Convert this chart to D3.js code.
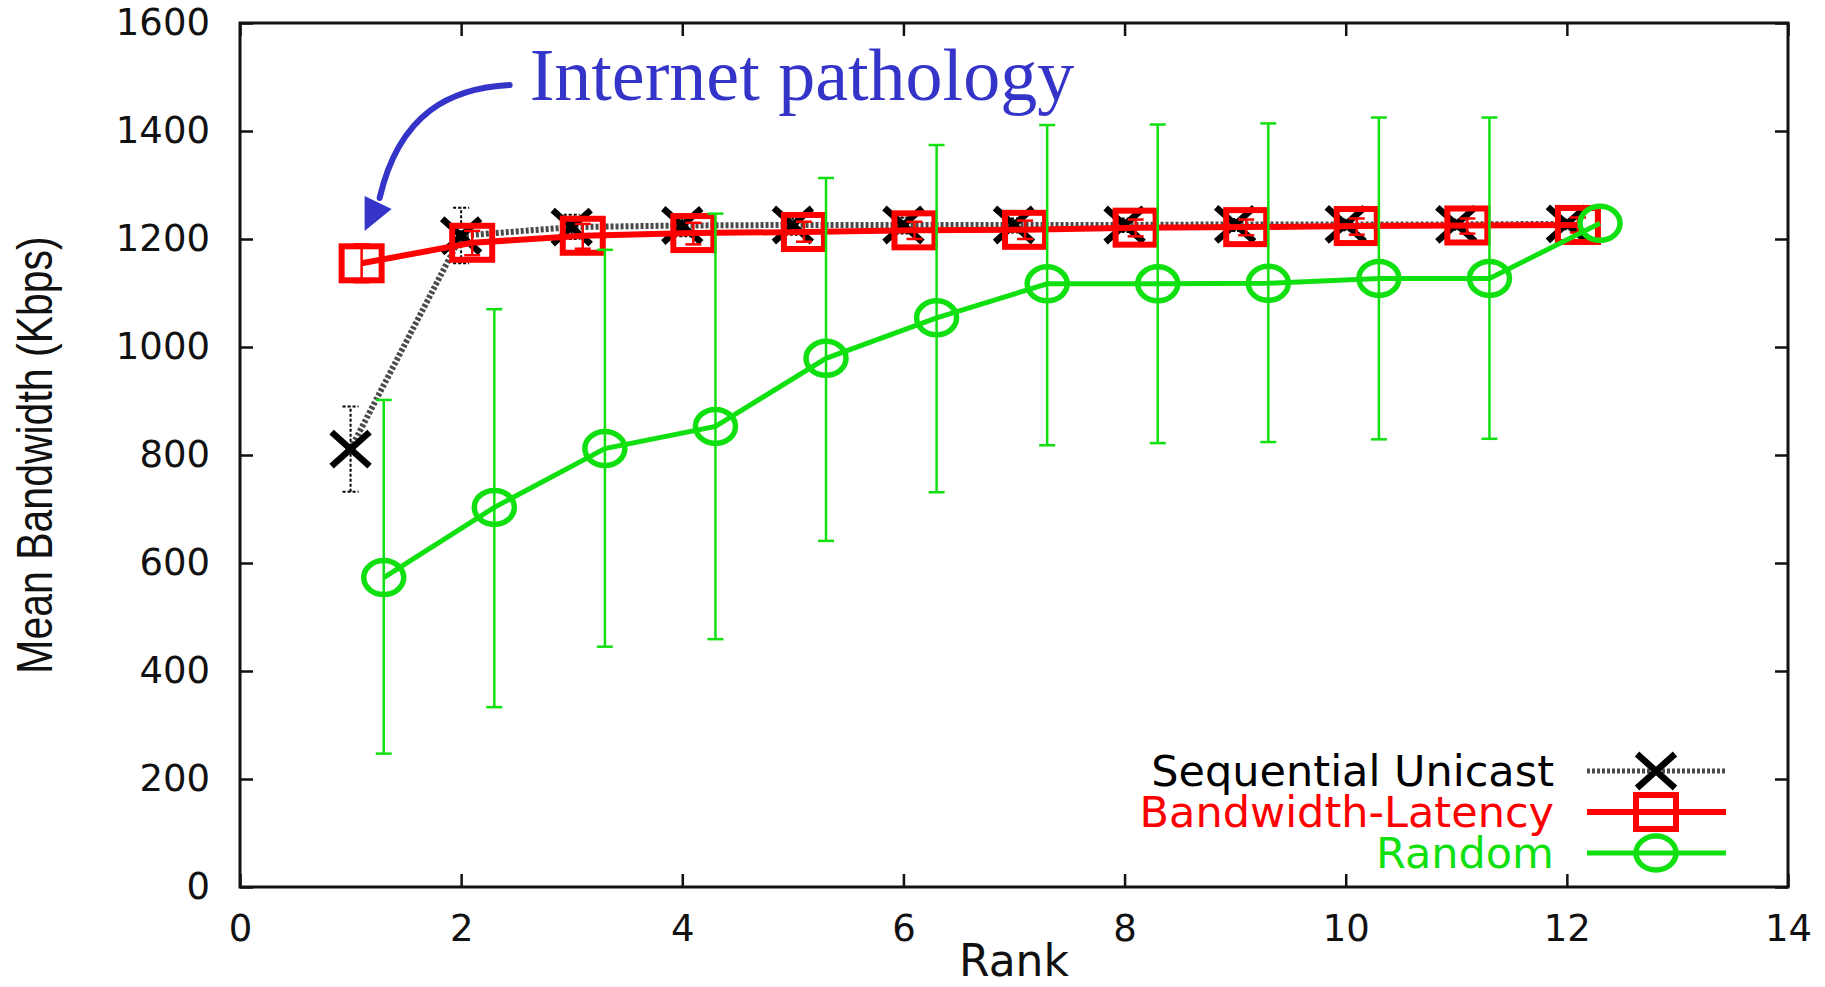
<!DOCTYPE html>
<html>
<head>
<meta charset="utf-8">
<script src="https://cdn.jsdelivr.net/npm/d3@7"></script>
<style>
body{margin:0;background:#fff;}
</style>
</head>
<body>
<div id="chart"></div>
<script>
// values
var xTicks=[0,2,4,6,8,10,12,14];
var yTicks=[0,200,400,600,800,1000,1200,1400,1600];

var seqRank=[1,2,3,4,5,6,7,8,9,10,11,12];
var seqMean=[811,1206,1222,1225,1226,1226,1226,1226,1227,1227,1227,1228];
var seqLow =[732,1155,1200,1205,1208,1210,1212,1213,1215,1216,1217,1218];
var seqHigh=[890,1258,1245,1242,1240,1240,1238,1238,1237,1236,1236,1236];

var bwRank=[1.1,2.1,3.1,4.1,5.1,6.1,7.1,8.1,9.1,10.1,11.1,12.1];
var bwMean=[1155,1193,1206,1211,1213,1216,1217,1221,1222,1224,1225,1226];
var bwLow =[1120,1170,1182,1190,1195,1200,1200,1205,1207,1208,1210,1212];
var bwHigh=[1190,1215,1228,1230,1232,1232,1234,1236,1236,1238,1238,1240];

var rndRank=[1.3,2.3,3.3,4.3,5.3,6.3,7.3,8.3,9.3,10.3,11.3,12.3];
var rndMean=[573,703,812,853,979,1054,1117,1117,1118,1127,1127,1229];
var rndLow =[247,333,445,459,641,731,818,822,824,829,830,1229];
var rndHigh=[902,1070,1180,1247,1313,1374,1411,1412,1414,1425,1425,1229];

var seriesNames=["Sequential Unicast","Bandwidth-Latency","Random"];
var seriesColors=["#000000","#ff0000","#10e010"];
var note="Internet pathology";

var W=1825,H=987;
var margin={top:23,right:37,bottom:100,left:240};
var x=d3.scaleLinear().domain([0,14]).range([margin.left,W-margin.right]);
var y=d3.scaleLinear().domain([0,1600]).range([H-margin.bottom,margin.top]);

var svg=d3.select("#chart").append("svg")
    .attr("width",W)
    .attr("height",H)
    .style("font-family","'DejaVu Sans', sans-serif");

// axes, ticks pointing inward on all four sides
function styleAxis(g){
    g.select(".domain").remove();
    g.selectAll(".tick line").attr("stroke","#111").attr("stroke-width",2.5);
    g.selectAll(".tick text").attr("fill","#111").style("font-size","37px").style("font-family","'DejaVu Sans', sans-serif");
}
var fmt=d3.format("d");
svg.append("g").attr("transform","translate("+margin.left+",0)")
    .call(d3.axisLeft(y).tickValues(yTicks).tickFormat(fmt).tickSize(-13).tickSizeOuter(0).tickPadding(30))
    .call(styleAxis);
svg.append("g").attr("transform","translate("+(W-margin.right)+",0)")
    .call(d3.axisRight(y).tickValues(yTicks).tickSize(-13).tickSizeOuter(0).tickFormat(""))
    .call(styleAxis);
svg.append("g").attr("transform","translate(0,"+(H-margin.bottom)+")")
    .call(d3.axisBottom(x).tickValues(xTicks).tickFormat(fmt).tickSize(-13).tickSizeOuter(0).tickPadding(28))
    .call(styleAxis);
svg.append("g").attr("transform","translate(0,"+margin.top+")")
    .call(d3.axisTop(x).tickValues(xTicks).tickSize(-13).tickSizeOuter(0).tickFormat(""))
    .call(styleAxis);

svg.append("rect")
    .attr("x",x(0)).attr("y",y(1600))
    .attr("width",x(14)-x(0)).attr("height",y(0)-y(1600))
    .attr("fill","none").attr("stroke","#111").attr("stroke-width",3);

svg.append("text")
    .attr("transform","translate(35,"+y(800)+") rotate(-90) scale(1,1.2)")
    .attr("text-anchor","middle")
    .attr("dy","0.35em")
    .style("font-family","'Liberation Sans', Arial, sans-serif")
    .style("font-size","41px")
    .attr("fill","#111")
    .text("Mean Bandwidth (Kbps)");

svg.append("text")
    .attr("x",x(7)).attr("y",976)
    .attr("text-anchor","middle")
    .style("font-size","44px")
    .attr("fill","#111")
    .text("Rank");

function zipped(r,m,lo,hi){
    return r.map(function(d,i){return {x:d,y:m[i],lo:lo[i],hi:hi[i]};});
}
var seq=zipped(seqRank,seqMean,seqLow,seqHigh);
var bw=zipped(bwRank,bwMean,bwLow,bwHigh);
var rnd=zipped(rndRank,rndMean,rndLow,rndHigh);

var line=d3.line().x(function(d){return x(d.x);}).y(function(d){return y(d.y);});

function errorBars(data,color,width,dash){
    var g=svg.append("g").attr("stroke",color).attr("stroke-width",width).attr("fill","none");
    if(dash) g.attr("stroke-dasharray",dash);
    var e=g.selectAll("g").data(data.filter(function(d){return d.hi>d.lo;})).enter().append("g");
    e.append("line")
        .attr("x1",function(d){return x(d.x);}).attr("x2",function(d){return x(d.x);})
        .attr("y1",function(d){return y(d.lo);}).attr("y2",function(d){return y(d.hi);});
    e.append("line")
        .attr("x1",function(d){return x(d.x)-8;}).attr("x2",function(d){return x(d.x)+8;})
        .attr("y1",function(d){return y(d.lo);}).attr("y2",function(d){return y(d.lo);});
    e.append("line")
        .attr("x1",function(d){return x(d.x)-8;}).attr("x2",function(d){return x(d.x)+8;})
        .attr("y1",function(d){return y(d.hi);}).attr("y2",function(d){return y(d.hi);});
}

function crossPath(cx,cy){
    return "M"+(cx-19)+","+(cy-17)+"L"+(cx+19)+","+(cy+17)+"M"+(cx-19)+","+(cy+17)+"L"+(cx+19)+","+(cy-17);
}

// Sequential Unicast
errorBars(seq,"#000",2,"3,2");
svg.append("path").datum(seq).attr("d",line)
    .attr("fill","none").attr("stroke","#4a4a4a").attr("stroke-width",6).attr("stroke-dasharray","3,2");
svg.append("g").selectAll("path").data(seq).enter().append("path")
    .attr("d",function(d){return crossPath(x(d.x),y(d.y));})
    .attr("stroke","#000").attr("stroke-width",6.5).attr("fill","none");

// Bandwidth-Latency
errorBars(bw,seriesColors[1],2.5);
svg.append("path").datum(bw).attr("d",line)
    .attr("fill","none").attr("stroke",seriesColors[1]).attr("stroke-width",6);
svg.append("g").selectAll("rect").data(bw).enter().append("rect")
    .attr("x",function(d){return x(d.x)-20;}).attr("y",function(d){return y(d.y)-17;})
    .attr("width",40).attr("height",34)
    .attr("fill","none").attr("stroke",seriesColors[1]).attr("stroke-width",6);

// Random
errorBars(rnd,seriesColors[2],2.5);
svg.append("path").datum(rnd).attr("d",line)
    .attr("fill","none").attr("stroke",seriesColors[2]).attr("stroke-width",5);
svg.append("g").selectAll("ellipse").data(rnd).enter().append("ellipse")
    .attr("cx",function(d){return x(d.x);}).attr("cy",function(d){return y(d.y);})
    .attr("rx",20).attr("ry",17)
    .attr("fill","none").attr("stroke",seriesColors[2]).attr("stroke-width",5.5);

// legend
var legY=[771,812,853];
var leg=svg.append("g");
seriesNames.forEach(function(name,i){
    leg.append("text")
        .attr("x",1554).attr("y",legY[i]).attr("dy","0.35em")
        .attr("text-anchor","end")
        .style("font-size","43px")
        .attr("fill",seriesColors[i])
        .text(name);
    var ln=leg.append("line")
        .attr("x1",1587).attr("x2",1726).attr("y1",legY[i]).attr("y2",legY[i])
        .attr("stroke",i==0?"#4a4a4a":seriesColors[i]).attr("stroke-width",i==1?6:5);
    if(i==0) ln.attr("stroke-dasharray","3,2");
    if(i==0){
        leg.append("path").attr("d",crossPath(1656,legY[i]))
            .attr("stroke","#000").attr("stroke-width",6.5).attr("fill","none");
    } else if(i==1){
        leg.append("rect").attr("x",1636).attr("y",legY[i]-17).attr("width",40).attr("height",34)
            .attr("fill","none").attr("stroke",seriesColors[1]).attr("stroke-width",6);
    } else {
        leg.append("ellipse").attr("cx",1656).attr("cy",legY[i]).attr("rx",20).attr("ry",17)
            .attr("fill","none").attr("stroke",seriesColors[2]).attr("stroke-width",5.5);
    }
});

// annotation pointing at the first Bandwidth-Latency point
var blue="#3434c8";
var px=x(bw[0].x), py=y(bw[0].y);
svg.append("text")
    .attr("x",px+168).attr("y",100)
    .style("font-family","'Liberation Serif', 'Times New Roman', serif")
    .style("font-size","74px")
    .attr("fill",blue)
    .text(note);
var ap=d3.path();
ap.moveTo(px+148,85);
ap.bezierCurveTo(px+90,88,px+38,112,px+18,198);
svg.append("path").attr("d",ap.toString())
    .attr("fill","none").attr("stroke",blue).attr("stroke-width",6).attr("stroke-linecap","round");
svg.append("path")
    .attr("d","M"+(px+3)+","+196+"L"+(px+30)+","+209+"L"+(px+3)+","+231+"Z")
    .attr("fill",blue);
</script>
</body>
</html>
